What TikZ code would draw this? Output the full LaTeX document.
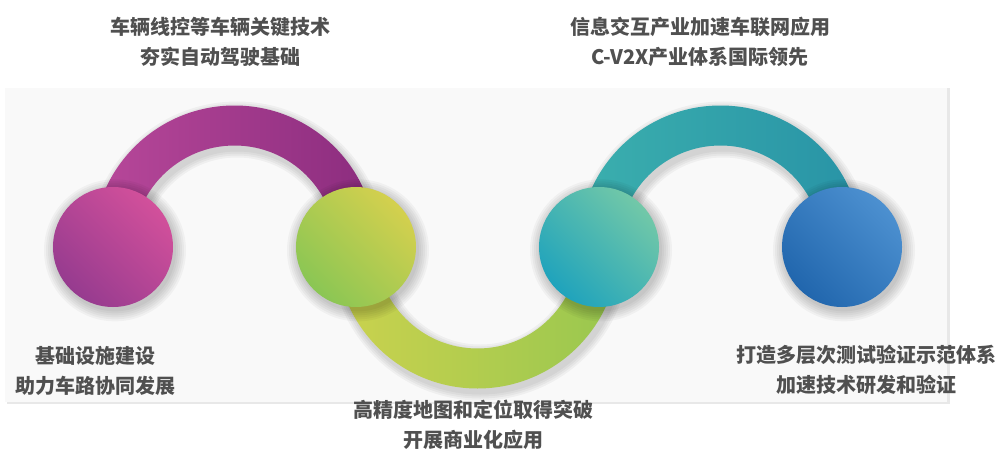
\documentclass[tikz,border=0pt]{standalone}
\usepackage{fontspec}
\newfontfamily\cjk{Noto Sans CJK SC}
\definecolor{panel}{RGB}{249,249,249}
\definecolor{panelsh}{RGB}{232,232,232}
\definecolor{txt}{RGB}{80,80,80}
\definecolor{pA}{RGB}{184,72,154}
\definecolor{pB}{RGB}{139,44,126}
\definecolor{gA}{RGB}{203,210,78}
\definecolor{gB}{RGB}{152,199,79}
\definecolor{tA}{RGB}{59,175,174}
\definecolor{tB}{RGB}{40,147,166}
\definecolor{c1a}{RGB}{210,80,155}
\definecolor{c1b}{RGB}{150,59,143}
\definecolor{c2a}{RGB}{212,208,78}
\definecolor{c2b}{RGB}{138,198,84}
\definecolor{c3a}{RGB}{114,200,168}
\definecolor{c3b}{RGB}{31,163,188}
\definecolor{c4a}{RGB}{76,144,208}
\definecolor{c4b}{RGB}{33,102,173}
\begin{document}
\begin{tikzpicture}[x=0.75pt,y=0.75pt,
  lbl/.style={font=\cjk\bfseries\fontsize{15}{22.5}\selectfont, text=txt, align=center, inner sep=0pt},
  ball/.style={circle, minimum size=90pt, inner sep=0pt, draw=none},
  halo/.style={fill=black, opacity=0.035}]
\useasboundingbox (0,0) rectangle (1006,469);
\fill[white] (0,0) rectangle (1006,469);
% panel
\fill[panelsh] (7,65) rectangle (950,381);
\fill[panel] (5,67) rectangle (947,381);
% circle positions
\coordinate (p1) at (113,222);
\coordinate (p2) at (356,222);
\coordinate (p3) at (599,222);
\coordinate (p4) at (842,222);
% arc shadows
\foreach \w in {42pt,39pt,36pt,33pt}{
  \draw[line width=\w, black, opacity=0.04] ([xshift=2pt,yshift=-3pt]p1) arc[start angle=180,end angle=0,radius=121.5];
  \draw[line width=\w, black, opacity=0.04] ([xshift=2pt,yshift=-3pt]p2) arc[start angle=180,end angle=360,radius=121.5];
  \draw[line width=\w, black, opacity=0.04] ([xshift=2pt,yshift=-3pt]p3) arc[start angle=180,end angle=0,radius=121.5];
}
% arcs
\shade[left color=pA, right color=pB]
  ([xshift=-15pt]p1) arc[start angle=180,end angle=0,radius=141.5]
  -- ([xshift=-15pt]p2) arc[start angle=0,end angle=180,radius=101.5] -- cycle;
\shade[left color=gA, right color=gB]
  ([xshift=-15pt]p2) arc[start angle=180,end angle=360,radius=141.5]
  -- ([xshift=-15pt]p3) arc[start angle=360,end angle=180,radius=101.5] -- cycle;
\shade[left color=tA, right color=tB]
  ([xshift=-15pt]p3) arc[start angle=180,end angle=0,radius=141.5]
  -- ([xshift=-15pt]p4) arc[start angle=0,end angle=180,radius=101.5] -- cycle;
% circle shadows
\foreach \p in {p1,p2,p3,p4}{
  \foreach \r in {61,63,65,67,69,71}{
    \fill[halo] ([xshift=1.5pt,yshift=-2.5pt]\p) circle (\r);
  }
}
% circles
\node[ball, top color=c1a, bottom color=c1b, shading angle=-45] (c1) at (p1) {};
\node[ball, top color=c2a, bottom color=c2b, shading angle=-45] (c2) at (p2) {};
\node[ball, top color=c3a, bottom color=c3b, shading angle=-45] (c3) at (p3) {};
\node[ball, top color=c4a, bottom color=c4b, shading angle=-45] (c4) at (p4) {};
% labels
\node[lbl] (t1) at (220,427) {车辆线控等车辆关键技术\\夯实自动驾驶基础};
\node[lbl] (t2) at (700,427) {信息交互产业加速车联网应用\\C-V2X产业体系国际领先};
\node[lbl] (t3) at (95,98) {基础设施建设\\助力车路协同发展};
\node[lbl] (t4) at (866,99) {打造多层次测试验证示范体系\\加速技术研发和验证};
\node[lbl] (t5) at (473,44) {高精度地图和定位取得突破\\开展商业化应用};
\end{tikzpicture}
\end{document}
